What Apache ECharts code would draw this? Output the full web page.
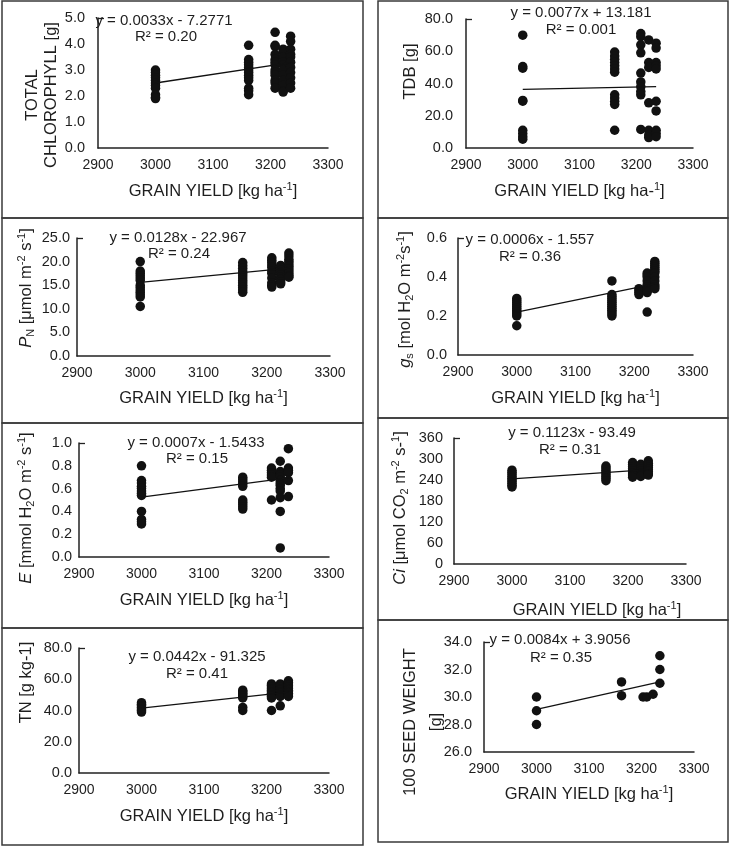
<!DOCTYPE html>
<html><head><meta charset="utf-8">
<script src="https://cdn.jsdelivr.net/npm/echarts@6/dist/echarts.min.js"></script>
<style>html,body{margin:0;padding:0;background:#fff}#c{width:730px;height:847px}</style>
</head><body><div id="c"></div>
<script>
// ---------- DATA ----------
const xClusters = [3000, 3162, 3208, 3222, 3235];
const xTicks = [2900, 3000, 3100, 3200, 3300];
const trendX = [3000, 3235];

const chlorophyll = [
  [3.0, 2.9, 2.8, 2.7, 2.6, 2.5, 2.4, 2.3, 2.05, 1.95, 1.9],
  [3.95, 3.4, 3.3, 3.2, 3.1, 3.0, 2.9, 2.8, 2.7, 2.6, 2.3, 2.2, 2.05],
  [4.45, 3.95, 3.9, 3.6, 3.4, 3.3, 3.2, 3.0, 2.9, 2.8, 2.6, 2.5, 2.3],
  [3.8, 3.7, 3.5, 3.3, 3.2, 3.0, 2.8, 2.6, 2.4, 2.2, 2.15],
  [4.3, 4.1, 3.8, 3.6, 3.5, 3.3, 3.1, 2.9, 2.7, 2.5, 2.3]
];
const tdb = [
  [70, 50.5, 49.5, 29.5, 29, 11, 9, 7, 5.5],
  [59.5, 57, 55, 53, 51, 49, 47, 33, 31, 29, 27, 11],
  [71, 69, 64, 59, 46.5, 41, 38, 35, 33, 11.5],
  [67, 53, 50, 28, 11, 8, 6.5],
  [65, 62, 53, 51, 49, 29, 23, 11, 9, 7]
];
const pn = [
  [20.0, 18.0, 17.5, 17.0, 16.5, 16.0, 15.0, 14.5, 14.0, 13.5, 13.0, 12.5, 10.5],
  [19.8, 19.2, 18.6, 18.0, 17.5, 17.0, 16.5, 16.0, 15.5, 15.0, 14.5, 14.0, 13.5],
  [20.8, 20.3, 19.8, 19.3, 18.8, 18.0, 17.5, 16.5, 15.5, 15.0, 14.6],
  [19.2, 18.7, 18.2, 17.7, 17.2, 16.7, 16.2, 15.7, 15.3],
  [21.8, 21.2, 20.5, 20.0, 19.5, 19.0, 18.5, 18.0, 17.5, 17.0, 16.7]
];
const gs = [
  [0.29, 0.28, 0.27, 0.26, 0.25, 0.24, 0.23, 0.22, 0.21, 0.20, 0.15],
  [0.38, 0.31, 0.30, 0.29, 0.28, 0.27, 0.26, 0.25, 0.24, 0.23, 0.22, 0.21, 0.20],
  [0.34, 0.33, 0.32, 0.31],
  [0.42, 0.41, 0.40, 0.38, 0.36, 0.35, 0.33, 0.32, 0.22],
  [0.48, 0.47, 0.46, 0.45, 0.44, 0.43, 0.42, 0.40, 0.38, 0.36, 0.35, 0.34]
];
const transpiration = [
  [0.80, 0.67, 0.65, 0.62, 0.60, 0.58, 0.56, 0.54, 0.40, 0.33, 0.31, 0.29],
  [0.70, 0.68, 0.66, 0.64, 0.62, 0.50, 0.48, 0.46, 0.44, 0.42],
  [0.78, 0.76, 0.74, 0.72, 0.70, 0.50],
  [0.84, 0.75, 0.72, 0.70, 0.67, 0.65, 0.63, 0.60, 0.58, 0.52, 0.40, 0.08],
  [0.95, 0.78, 0.76, 0.74, 0.67, 0.53]
];
const ci = [
  [268, 262, 256, 250, 245, 240, 235, 230, 225, 220],
  [280, 274, 268, 262, 256, 250, 244, 238],
  [290, 284, 278, 272, 266, 260, 254, 248],
  [285, 278, 272, 266, 260, 254, 250],
  [295, 288, 282, 276, 270, 264, 258, 254]
];
const tn = [
  [45, 44, 43, 42, 41, 40, 39],
  [53, 52, 51, 50, 49, 48, 42, 40],
  [57, 56, 55, 54, 53, 52, 51, 50, 49, 48, 40],
  [57, 56, 55, 54, 53, 52, 51, 50, 49, 43],
  [59, 58, 57, 56, 55, 54, 53, 52, 51, 50, 49]
];
const seedX = [3000, 3000, 3000, 3162, 3162, 3203, 3210, 3222, 3235, 3235, 3235];
const seedY = [30.0, 29.0, 28.0, 31.1, 30.1, 30.0, 30.0, 30.2, 33.0, 32.0, 31.0];

const trendValues = [
  [2.5, 3.28], [36.3, 38.1], [15.6, 18.6], [0.22, 0.365],
  [0.525, 0.695], [243.4, 269.9], [41.5, 51.7], [29.1, 31.1]
];
const eqTexts = [
  'y = 0.0033x - 7.2771', 'y = 0.0077x + 13.181', 'y = 0.0128x - 22.967', 'y = 0.0006x - 1.557',
  'y = 0.0007x - 1.5433', 'y = 0.1123x - 93.49', 'y = 0.0442x - 91.325', 'y = 0.0084x + 3.9056'
];
const r2Texts = ['R² = 0.20', 'R² = 0.001', 'R² = 0.24', 'R² = 0.36', 'R² = 0.15', 'R² = 0.31', 'R² = 0.41', 'R² = 0.35'];
const yNames = [
  'TOTAL\nCHLOROPHYLL [g]',
  'TDB [g]',
  '{i|P}{sub|N} [μmol m{sup|-2} s{sup|-1}]',
  '{i|g}{sub|s} [mol H{sub|2}O m{sup|-2}s{sup|-1}]',
  '{i|E} [mmol H{sub|2}O m{sup|-2} s{sup|-1}]',
  '{i|Ci} [μmol CO{sub|2} m{sup|-2} s-{sup|1}]',
  'TN [g kg-1]',
  '100 SEED WEIGHT\n[g]'
];
const xNames = [
  'GRAIN YIELD [kg ha{sup|-1}]', 'GRAIN YIELD [kg ha-{sup|1}]', 'GRAIN YIELD [kg ha{sup|-1}]', 'GRAIN YIELD [kg ha{sup|-1}]',
  'GRAIN YIELD [kg ha{sup|-1}]', 'GRAIN YIELD [kg ha{sup|-1}]', 'GRAIN YIELD [kg ha{sup|-1}]', 'GRAIN YIELD [kg ha{sup|-1}]'
];
const yMins = [0, 0, 0, 0, 0, 0, 0, 26];
const yMaxs = [5, 80, 25, 0.6, 1, 360, 80, 34];
const yIntervals = [1, 20, 5, 0.2, 0.2, 60, 20, 2];
const yDecimals = [1, 1, 1, 1, 1, 0, 1, 1];

// ---------- LAYOUT ----------
const FONT = '"Liberation Sans", Arial, Helvetica, sans-serif';
const TXT = '#1e1e1e';
const INK = '#111';
const layout = [
  {grid:{left:98, top:18, width:230, height:130}, yMargin:13, yGap:37, yPad:[0,24,0,0], yLH:19, xGap:33, xPad:[0,0,0,0], eq:[164,21], r2:[166,37], box:[2,1,361,217]},
  {grid:{left:466, top:19, width:227, height:129}, yMargin:13, yGap:46, yPad:[0,0,0,24], yLH:20, xGap:33, xPad:[0,0,0,0], eq:[581,13], r2:[581,30], box:[378,1,350,217]},
  {grid:{left:77, top:238, width:253, height:118}, yMargin:7, yGap:41, yPad:[0,0,0,18], yLH:20, xGap:32, xPad:[0,0,0,0], eq:[178,238], r2:[179,254], box:[2,218,361,205]},
  {grid:{left:458, top:238, width:235, height:117}, yMargin:11, yGap:43, yPad:[0,6,0,0], yLH:20, xGap:33, xPad:[0,0,0,0], eq:[530,240], r2:[530,257], box:[378,218,350,200]},
  {grid:{left:79, top:443, width:250, height:114}, yMargin:7, yGap:43, yPad:[0,16,0,0], yLH:20, xGap:33, xPad:[0,0,0,0], eq:[196,443], r2:[197,459], box:[2,423,361,205]},
  {grid:{left:454, top:438, width:232, height:126}, yMargin:11, yGap:44, yPad:[0,14,0,0], yLH:20, xGap:36, xPad:[0,0,0,54], eq:[572,433], r2:[570,450], box:[378,418,350,202]},
  {grid:{left:79, top:648, width:250, height:125}, yMargin:7, yGap:43, yPad:[0,0,0,56], yLH:20, xGap:33, xPad:[0,0,0,0], eq:[197,657], r2:[197,674], box:[2,628,361,217]},
  {grid:{left:484, top:642, width:210, height:110}, yMargin:12, yGap:35, yPad:[0,50,0,0], yLH:26, xGap:32, xPad:[0,0,0,0], eq:[560,640], r2:[561,658], box:[378,620,350,222]}
];

// ---------- BUILD ----------
function clusterPoints(arr) {
  const pts = [];
  arr.forEach((vals, i) => vals.forEach(v => pts.push([xClusters[i], v])));
  return pts;
}
const pointSets = [
  clusterPoints(chlorophyll), clusterPoints(tdb), clusterPoints(pn), clusterPoints(gs),
  clusterPoints(transpiration), clusterPoints(ci), clusterPoints(tn),
  seedX.map((x, i) => [x, seedY[i]])
];

const rich = {
  i: {fontStyle: 'italic', fontSize: 16.5, fontFamily: FONT, color: TXT, lineHeight: 20},
  sub: {fontSize: 11, fontFamily: FONT, color: TXT, verticalAlign: 'bottom', lineHeight: 11},
  sup: {fontSize: 11, fontFamily: FONT, color: TXT, verticalAlign: 'top', lineHeight: 11}
};

const grids = [], xAxes = [], yAxes = [], series = [], graphics = [];
layout.forEach((L, k) => {
  grids.push(Object.assign({outerBoundsMode: 'none', containLabel: false}, L.grid));
  xAxes.push({
    type: 'value', gridIndex: k, min: xTicks[0], max: xTicks[xTicks.length - 1], interval: 100,
    axisLine: {show: true, onZero: false, lineStyle: {color: '#222', width: 1.5}},
    axisTick: {show: false}, splitLine: {show: false},
    axisLabel: {margin: 10, color: TXT, fontFamily: FONT, fontSize: 14, formatter: v => String(v)},
    name: xNames[k], nameLocation: 'middle', nameGap: L.xGap, nameMoveOverlap: false,
    nameTextStyle: {fontFamily: FONT, fontSize: 16.5, color: TXT, lineHeight: 20, padding: L.xPad, rich: rich}
  });
  yAxes.push({
    type: 'value', gridIndex: k, min: yMins[k], max: yMaxs[k], interval: yIntervals[k],
    axisLine: {show: true, onZero: false, lineStyle: {color: '#222', width: 1.5}},
    axisTick: {show: true, inside: true, length: 6, customValues: [yMaxs[k]], lineStyle: {color: '#222', width: 1.3}},
    splitLine: {show: false},
    axisLabel: {margin: L.yMargin, color: TXT, fontFamily: FONT, fontSize: 14.5,
      formatter: v => Number(v).toFixed(yDecimals[k])},
    name: yNames[k], nameLocation: 'middle', nameGap: L.yGap, nameMoveOverlap: false,
    nameTextStyle: {fontFamily: FONT, fontSize: 16.5, color: TXT, lineHeight: L.yLH, padding: L.yPad, align: 'center', rich: rich}
  });
  series.push({
    type: 'line', xAxisIndex: k, yAxisIndex: k, symbol: 'none', silent: true, z: 3,
    lineStyle: {color: INK, width: 1.3},
    data: trendX.map((x, i) => [x, trendValues[k][i]])
  });
  series.push({
    type: 'scatter', xAxisIndex: k, yAxisIndex: k, symbol: 'circle', symbolSize: 9.5, z: 2,
    itemStyle: {color: INK, opacity: 1}, data: pointSets[k]
  });
  graphics.push({type: 'rect', shape: {x: L.box[0], y: L.box[1], width: L.box[2], height: L.box[3]},
    style: {fill: 'none', stroke: '#3a3a3a', lineWidth: 1.5}, z: 10});
  graphics.push({type: 'text', x: L.eq[0], y: L.eq[1], z: 10,
    style: {text: eqTexts[k], font: '15px ' + FONT, fill: TXT, align: 'center', verticalAlign: 'middle'}});
  graphics.push({type: 'text', x: L.r2[0], y: L.r2[1], z: 10,
    style: {text: r2Texts[k], font: '15px ' + FONT, fill: TXT, align: 'center', verticalAlign: 'middle'}});
});

const chart = echarts.init(document.getElementById('c'), null, {renderer: 'canvas'});
chart.setOption({
  backgroundColor: '#fff',
  animation: false,
  grid: grids, xAxis: xAxes, yAxis: yAxes, series: series,
  graphic: graphics
});
</script></body></html>
